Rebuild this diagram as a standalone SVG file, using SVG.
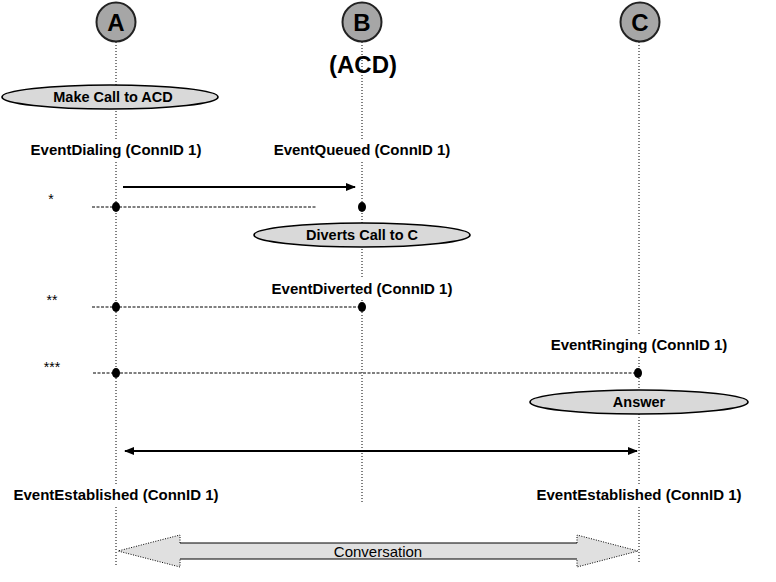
<svg xmlns="http://www.w3.org/2000/svg" width="776" height="582" viewBox="0 0 776 582">
<style>
.life{stroke:#000;stroke-width:1;stroke-dasharray:1,2;fill:none}
.dash{stroke:#000;stroke-width:1;stroke-dasharray:3,1.5;fill:none}
.head{fill:#a6a6a6;stroke:#222;stroke-width:2}
.ht{font-family:"Liberation Sans",Arial,sans-serif;font-weight:bold;font-size:24px;fill:#000;text-anchor:middle}
.ev{font-family:"Liberation Sans",Arial,sans-serif;font-weight:bold;font-size:15px;fill:#000;text-anchor:middle}
.act{fill:#d9d9d9;stroke:#000;stroke-width:1.7}
.at{font-family:"Liberation Sans",Arial,sans-serif;font-weight:bold;font-size:14.5px;fill:#000;text-anchor:middle}
.ct{font-family:"Liberation Sans",Arial,sans-serif;font-size:15px;fill:#000;text-anchor:middle}
.star{font-family:"Liberation Sans",Arial,sans-serif;font-size:14px;fill:#000;text-anchor:middle}
.msg{stroke:#000;stroke-width:2;fill:none}
.dot{fill:#000}
.bg{fill:#fff}
</style>
<defs>
<marker id="arr" markerWidth="10" markerHeight="8" refX="9" refY="4" orient="auto-start-reverse" markerUnits="userSpaceOnUse">
<path d="M0,0 L10,4 L0,8 Z" fill="#000"/>
</marker>
</defs>
<rect width="776" height="582" fill="#fff"/>
<g id="lifelines">
<line class="life" x1="116" y1="42" x2="116" y2="566"/>
<line class="life" x1="362" y1="42" x2="362" y2="503"/>
<line class="life" x1="639" y1="42" x2="639" y2="562"/>
</g>
<g id="node-A"><circle class="head" cx="116" cy="22" r="19.5"/><text class="ht" x="116" y="31">A</text></g>
<g id="node-B"><circle class="head" cx="362" cy="22" r="19.5"/><text class="ht" x="362" y="31">B</text><text class="ht" x="363" y="73">(ACD)</text></g>
<g id="node-C"><circle class="head" cx="640" cy="22" r="19.5"/><text class="ht" x="640" y="31">C</text></g>
<g id="act-make"><ellipse class="act" cx="110" cy="97" rx="108" ry="12"/><text class="at" x="113" y="102">Make Call to ACD</text></g>
<g id="act-divert"><ellipse class="act" cx="362" cy="235" rx="108" ry="12"/><text class="at" x="362" y="240">Diverts Call to C</text></g>
<g id="act-answer"><ellipse class="act" cx="639" cy="402" rx="109" ry="12"/><text class="at" x="639" y="407">Answer</text></g>
<g id="labels">
<rect class="bg" x="26" y="139" width="182" height="22"/>
<text class="ev" x="116" y="155">EventDialing (ConnID 1)</text>
<rect class="bg" x="270" y="139" width="186" height="22"/>
<text class="ev" x="362" y="155">EventQueued (ConnID 1)</text>
<rect class="bg" x="268" y="278" width="190" height="22"/>
<text class="ev" x="362" y="294">EventDiverted (ConnID 1)</text>
<rect class="bg" x="546" y="334" width="186" height="22"/>
<text class="ev" x="639" y="350">EventRinging (ConnID 1)</text>
<rect class="bg" x="8" y="484" width="216" height="22"/>
<text class="ev" x="116" y="500">EventEstablished (ConnID 1)</text>
<rect class="bg" x="530" y="484" width="218" height="22"/>
<text class="ev" x="639" y="500">EventEstablished (ConnID 1)</text>
<text class="star" x="51" y="204">*</text>
<text class="star" x="52" y="305">**</text>
<text class="star" x="52" y="372">***</text>
</g>
<g id="connectors">
<line class="msg" x1="123" y1="187" x2="355" y2="187" marker-end="url(#arr)"/>
<line class="dash" x1="92" y1="207" x2="316" y2="207"/>
<line class="dash" x1="92" y1="307" x2="362" y2="307"/>
<line class="dash" x1="93" y1="373" x2="639" y2="373"/>
<line class="msg" x1="125" y1="451" x2="637" y2="451" marker-start="url(#arr)" marker-end="url(#arr)"/>
<ellipse class="dot" cx="116" cy="207" rx="4" ry="5"/>
<ellipse class="dot" cx="362" cy="207" rx="4" ry="5"/>
<ellipse class="dot" cx="116" cy="307" rx="4" ry="5"/>
<ellipse class="dot" cx="362" cy="307" rx="4" ry="5"/>
<ellipse class="dot" cx="116" cy="373" rx="4" ry="5"/>
<ellipse class="dot" cx="638" cy="373" rx="4" ry="5"/>
</g>
<g id="conversation">
<path d="M118,551 L180,535 L180,543 L577,543 L577,535 L638,551 L577,567 L577,559 L180,559 L180,567 Z" fill="#e0e0e0" stroke="none"/>
<path d="M180,543 L577,543 M180,559 L577,559" stroke="#000" stroke-width="1" fill="none"/>
<path d="M180,543 L180,535 L118,551 L180,567 L180,559 M577,543 L577,535 L638,551 L577,567 L577,559" stroke="#000" stroke-width="1" stroke-dasharray="1,1.5" fill="none"/>
<text class="ct" x="378" y="557">Conversation</text>
</g>
</svg>
